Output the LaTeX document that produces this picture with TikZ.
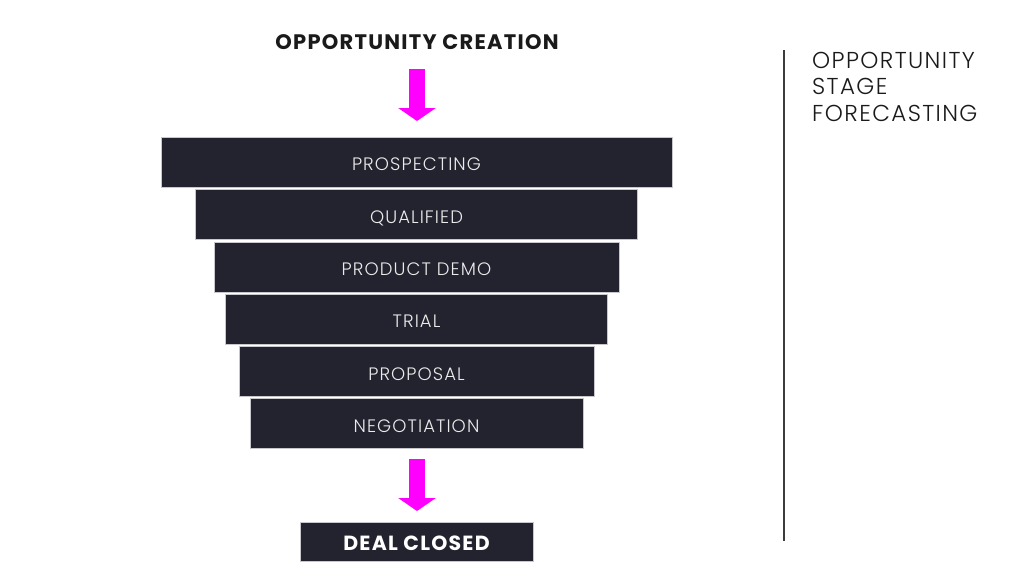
\documentclass[tikz,border=0pt]{standalone}
\usepackage{fontspec}
\IfFontExistsTF{Poppins Light}{\setmainfont{Poppins Light}[BoldFont={Poppins Bold}, LetterSpace=6]}{\setmainfont{Poppins}[LetterSpace=6]}
\usetikzlibrary{arrows.meta}
\definecolor{barfill}{HTML}{23232F}
\definecolor{barline}{HTML}{C8C8CC}
\definecolor{mag}{HTML}{FF00FF}
\definecolor{ink}{HTML}{1A1A1A}
\tikzset{
  stagebar/.style={draw=barline, line width=0.8pt, fill=barfill, text=white!92!black,
    minimum height=50pt, inner sep=0pt, text height=17pt, text depth=0pt,
    font=\fontsize{18}{21}\selectfont},
  closedbox/.style={draw=barline, line width=0.8pt, fill=barfill, text=white,
    minimum width=233pt, minimum height=39pt, inner sep=0pt, text height=18.2pt, text depth=0pt,
    font=\bfseries\fontsize{20.5}{23}\selectfont},
  bigarrow/.style={draw=mag, line width=16pt, -{Triangle[width=37pt,length=13pt]}},
}
\begin{document}
\begin{tikzpicture}[x=1pt,y=-1pt]
\useasboundingbox[fill=white] (0,0) rectangle (1024,568);
\node[anchor=base, text=ink, inner sep=0pt, font=\bfseries\fontsize{21}{24}\selectfont] (title) at (417,49) {OPPORTUNITY CREATION};
\node[stagebar, minimum width=511pt] (b1) at (416.5,162) {PROSPECTING};
\node[stagebar, minimum width=442pt] (b2) at (416.5,214.5) {QUALIFIED};
\node[stagebar, minimum width=405pt] (b3) at (416.5,267) {PRODUCT DEMO};
\node[stagebar, minimum width=382pt] (b4) at (416.5,319) {TRIAL};
\node[stagebar, minimum width=355pt] (b5) at (416.5,371.5) {PROPOSAL};
\node[stagebar, minimum width=333pt] (b6) at (416.5,423.5) {NEGOTIATION};
\node[closedbox] (dc) at (416.5,541.5) {DEAL CLOSED};
\coordinate (a1s) at (417,69);
\coordinate (a1e) at (417,121);
\coordinate (a2s) at (417,459);
\coordinate (a2e) at (417,511);
\draw[bigarrow] (a1s) -- (a1e);
\draw[bigarrow] (a2s) -- (a2e);
\coordinate (vt) at (784,50);
\coordinate (vb) at (784,541);
\draw[line width=1.6pt, draw=ink!85] (vt) -- (vb);
\node[anchor=north west, align=left, inner sep=0pt, text=ink, font=\fontsize{23}{26.5}\selectfont] (side) at (812,52) {OPPORTUNITY\\STAGE\\FORECASTING};
\end{tikzpicture}
\end{document}
